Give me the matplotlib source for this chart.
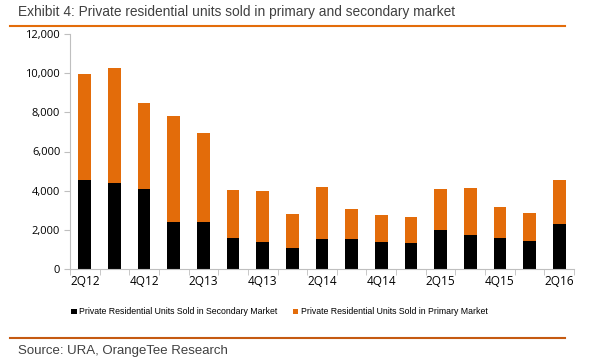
import matplotlib
matplotlib.use("Agg")
import matplotlib.pyplot as plt
import numpy as np
from matplotlib.ticker import FuncFormatter, FixedLocator

quarters = ["2Q12", "3Q12", "4Q12", "1Q13", "2Q13", "3Q13", "4Q13", "1Q14", "2Q14",
            "3Q14", "4Q14", "1Q15", "2Q15", "3Q15", "4Q15", "1Q16", "2Q16"]
secondary = [4550, 4370, 4110, 2400, 2400, 1600, 1390, 1070, 1510,
             1510, 1380, 1340, 1990, 1730, 1580, 1430, 2310]
total = [9950, 10280, 8480, 7820, 6940, 4010, 3960, 2820, 4210,
         3080, 2770, 2640, 4110, 4150, 3180, 2860, 4560]
primary = [t - s for t, s in zip(total, secondary)]

ORANGE = "#E36C0A"
plt.rcParams['font.family'] = ['Open Sans', 'DejaVu Sans']

fig = plt.figure(figsize=(6, 3.6), dpi=100)
ax = fig.add_axes([70/600, 1-269/360, (574-70)/600, (269-34)/360])

x = np.arange(len(quarters))
ax.bar(x, secondary, width=0.43, color="black", label="Private Residential Units Sold in Secondary Market")
ax.bar(x, primary, width=0.43, bottom=secondary, color=ORANGE, label="Private Residential Units Sold in Primary Market")

ax.set_xlim(-0.5, len(quarters) - 0.5)
ax.set_ylim(0, 12000)
ax.set_yticks(np.arange(0, 12001, 2000))
ax.yaxis.set_major_formatter(FuncFormatter(lambda v, p: f"{int(v):,}"))
ax.set_xticks(x[::2])
ax.set_xticklabels(quarters[::2])
ax.xaxis.set_minor_locator(FixedLocator(np.arange(-0.5, len(quarters), 1)))
ax.tick_params(axis='x', which='major', length=0, labelsize=8.5, pad=4)
ax.tick_params(axis='x', which='minor', length=4, color="#BFBFBF", direction='out')
ax.tick_params(axis='y', length=4, color="#BFBFBF", labelsize=8, pad=3)
for s in ["top", "right"]:
    ax.spines[s].set_visible(False)
for s in ["left", "bottom"]:
    ax.spines[s].set_color("#BFBFBF")
    ax.spines[s].set_linewidth(0.8)

leg = fig.legend(loc="center", bbox_to_anchor=(279.5/600, 1-312/360), ncol=2, frameon=False,
                 handlelength=0.6, handleheight=0.6, handletextpad=0.3,
                 columnspacing=1.8, prop={'family': ['Liberation Sans', 'DejaVu Sans'], 'size': 6.3})

fig.text(18/600, 1-12/360, "Exhibit 4: Private residential units sold in primary and secondary market",
         fontsize=9.9, color="#404040", va="center", ha="left",
         family=['Liberation Sans', 'DejaVu Sans'])
fig.add_artist(plt.Line2D([10/600, 565/600], [1-26/360, 1-26/360], color=ORANGE, lw=1.5))
fig.add_artist(plt.Line2D([10/600, 565/600], [1-338/360, 1-338/360], color="#C55A11", lw=1.5))
fig.text(18/600, 1-351/360, "Source: URA, OrangeTee Research", fontsize=9.5, color="#404040",
         va="center", ha="left", family=['Liberation Sans', 'DejaVu Sans'])

fig.savefig("out.png", dpi=100)
